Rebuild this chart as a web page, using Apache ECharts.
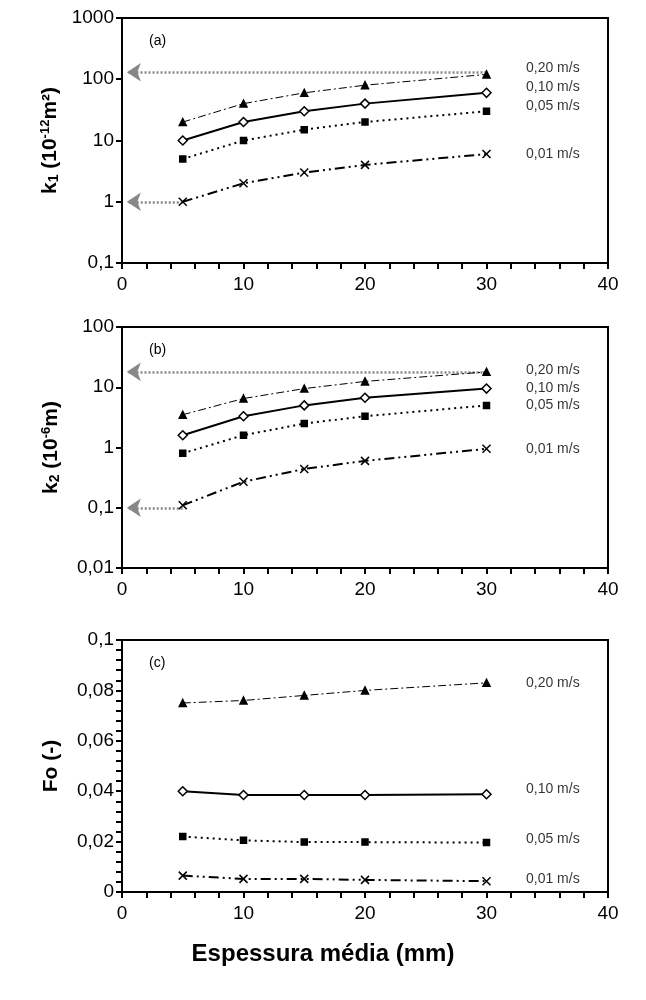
<!DOCTYPE html>
<html><head><meta charset="utf-8">
<script src="https://cdn.jsdelivr.net/npm/echarts@6/dist/echarts.min.js"></script>
<style>body{margin:0;background:#fff}#c{width:646px;height:1000px}</style>
</head><body><div id="c"></div>
<script>
// espessura média (mm)
var xs = [5, 10, 15, 20, 30]
var velocities = ['0,20 m/s', '0,10 m/s', '0,05 m/s', '0,01 m/s']

// k1 (10^-12 m2)
var k1_020 = [20, 40, 60, 80, 120]
var k1_010 = [10, 20, 30, 40, 60]
var k1_005 = [5, 10, 15, 20, 30]
var k1_001 = [1, 2, 3, 4, 6]
var k1Labels = [150, 75, 37, 6]
var k1Arrows = [130, 1]

// k2 (10^-6 m)
var k2_020 = [3.5, 6.5, 9.5, 12.5, 18]
var k2_010 = [1.6, 3.3, 5, 6.7, 9.5]
var k2_005 = [0.8, 1.6, 2.5, 3.3, 5]
var k2_001 = [0.11, 0.27, 0.44, 0.6, 0.95]
var k2Labels = [19, 9.5, 5, 0.95]
var k2Arrows = [18, 0.1]

// Fo (-)
var fo_020 = [0.075, 0.076, 0.078, 0.080, 0.083]
var fo_010 = [0.040, 0.0385, 0.0385, 0.0385, 0.0388]
var fo_005 = [0.022, 0.0205, 0.0198, 0.0198, 0.0196]
var fo_001 = [0.0065, 0.0052, 0.0052, 0.0048, 0.0043]
var foLabels = [0.083, 0.041, 0.021, 0.005]

var chart = echarts.init(document.getElementById('c'))
var F = 'Liberation Sans, Arial'

var styles = [
    { symbol: 'triangle', size: 7, fill: '#000', line: { type: [8, 3, 2, 3], width: 1 } },
    { symbol: 'diamond', size: 9, fill: '#fff', line: { type: 'solid', width: 2 } },
    { symbol: 'rect', size: 6, fill: '#000', line: { type: [2, 4], width: 2 } },
    { symbol: 'path://M0,0L10,10M10,0L0,10', size: 8, fill: 'none', line: { type: [10, 4, 2, 4, 2, 4], width: 2 } },
]

var grids = [
    { left: 122, right: 38, top: 18, height: 245 },
    { left: 122, right: 38, top: 327, height: 241 },
    { left: 122, right: 38, top: 640, height: 252 },
]

var xAxes = grids.map(function (g, i) {
    return {
        gridIndex: i, type: 'value', min: 0, max: 40, interval: 10,
        axisLine: { lineStyle: { color: '#000', width: 2 } },
        axisTick: { inside: false, length: 6, lineStyle: { color: '#000', width: 2 } },
        minorTick: { show: true, splitNumber: 5, length: 6, lineStyle: { color: '#000', width: 2 } },
        splitLine: { show: false },
        axisLabel: { color: '#000', fontFamily: F, fontSize: 19, margin: 12 },
    }
})

var yName = function (main, sub, sup, unit) {
    return '{m|' + main + '}{s|' + sub + '}{m| (10}{p|' + sup + '}{m|' + unit + ')}'
}
var richY = {
    m: { fontFamily: F, fontSize: 21, fontWeight: 'bold', color: '#000' },
    s: { fontFamily: F, fontSize: 14, fontWeight: 'bold', color: '#000', verticalAlign: 'bottom', padding: [8, 0, 0, 0] },
    p: { fontFamily: F, fontSize: 13, fontWeight: 'bold', color: '#000', verticalAlign: 'top', padding: [0, 0, 8, 0] },
}
var yBase = {
    axisLine: { show: true, lineStyle: { color: '#000', width: 2 } },
    axisTick: { show: true, length: 6, lineStyle: { color: '#000', width: 2 } },
    splitLine: { show: false },
    axisLabel: { color: '#000', fontFamily: F, fontSize: 19, margin: 8,
        formatter: function (v) { return String(+v.toPrecision(6)).replace('.', ',') } },
    nameLocation: 'middle', nameRotate: 90, nameGap: 60,
}
var yAxes = [
    Object.assign({}, yBase, { gridIndex: 0, type: 'log', min: 0.1, max: 1000, logBase: 10,
        name: yName('k', '1', '-12', 'm²'), nameTextStyle: { rich: richY } }),
    Object.assign({}, yBase, { gridIndex: 1, type: 'log', min: 0.01, max: 100, logBase: 10,
        name: yName('k', '2', '-6', 'm'), nameTextStyle: { rich: richY } }),
    Object.assign({}, yBase, { gridIndex: 2, type: 'value', min: 0, max: 0.1, interval: 0.02,
        minorTick: { show: true, splitNumber: 5, length: 6, lineStyle: { color: '#000', width: 2 } },
        name: 'Fo (-)', nameTextStyle: { fontFamily: F, fontSize: 21, fontWeight: 'bold', color: '#000' } }),
]

var panels = [
    [k1_020, k1_010, k1_005, k1_001],
    [k2_020, k2_010, k2_005, k2_001],
    [fo_020, fo_010, fo_005, fo_001],
]
var labelYs = [k1Labels, k2Labels, foLabels]
var arrows = [k1Arrows, k2Arrows, null]

var series = []
panels.forEach(function (set, p) {
    set.forEach(function (vals, i) {
        var st = styles[i]
        series.push({
            type: 'line', xAxisIndex: p, yAxisIndex: p,
            data: xs.map(function (x, j) { return [x, vals[j]] }),
            symbol: st.symbol, symbolSize: st.size, showAllSymbol: true,
            itemStyle: { color: st.fill, borderColor: '#000', borderWidth: 1.5 },
            lineStyle: { color: '#000', width: st.line.width, type: st.line.type },
            animation: false, z: 3,
        })
    })
    // grey arrows pointing to the y axis
    if (arrows[p]) {
        var ar = arrows[p]
        var starts = [30, 5]
        ar.forEach(function (y, k) {
            series.push({
                type: 'lines', coordinateSystem: 'cartesian2d', xAxisIndex: p, yAxisIndex: p,
                data: [{ coords: [[starts[k], y], [0.4, y]] }],
                symbol: ['none', 'arrow'], symbolSize: 14, clip: false,
                lineStyle: { color: '#888', width: 2.5, type: [2, 2], opacity: 1 },
                animation: false, z: 2,
            })
        })
    }
    // speed labels
    series.push({
        type: 'scatter', xAxisIndex: p, yAxisIndex: p, symbolSize: 0,
        data: labelYs[p].map(function (y, i) { return { value: [33, y], name: velocities[i] } }),
        label: { show: true, position: 'right', offset: [-2, 0], formatter: '{b}',
            fontFamily: F, fontSize: 14, color: '#000' },
        animation: false,
    })
})

var panelTags = ['(a)', '(b)', '(c)']
var graphics = grids.map(function (g, i) {
    return { type: 'text', left: g.left + 27, top: g.top + 16,
        style: { text: panelTags[i], font: '14px ' + F, fill: '#000' } }
})
graphics.push({ type: 'text', left: 'center', top: 942,
    style: { text: 'Espessura média (mm)', font: 'bold 24px ' + F, fill: '#000' } })
grids.forEach(function (g) {
    graphics.push({ type: 'rect', shape: { x: g.left, y: g.top, width: 646 - g.left - g.right, height: g.height },
        style: { fill: 'none', stroke: '#000', lineWidth: 2 }, z: 0 })
})

chart.setOption({
    backgroundColor: '#fff',
    grid: grids,
    xAxis: xAxes,
    yAxis: yAxes,
    series: series,
    graphic: graphics,
})
</script></body></html>
